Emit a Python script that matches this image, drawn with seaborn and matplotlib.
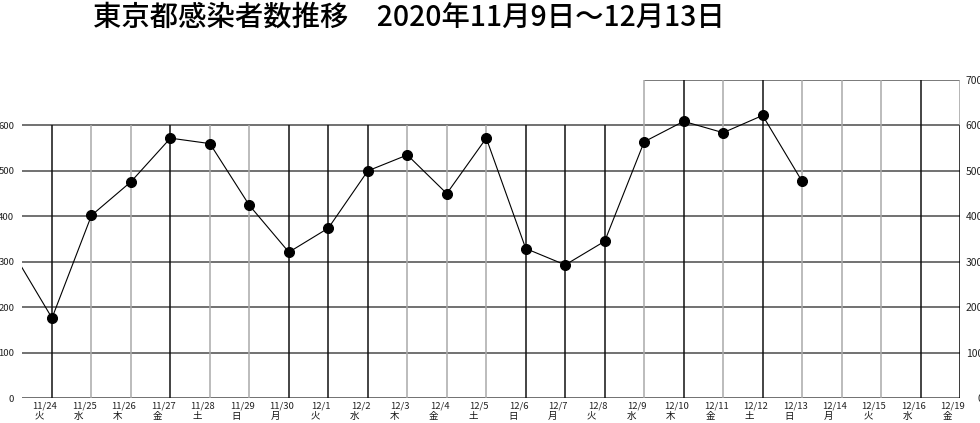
import numpy as np
import pandas as pd
import matplotlib
matplotlib.use("Agg")
import matplotlib.pyplot as plt
import matplotlib.transforms as mtransforms
import seaborn as sns

# ======== data ========
case_dates = ["2020/11/23", "2020/11/24", "2020/11/25", "2020/11/26", "2020/11/27",
              "2020/11/28", "2020/11/29", "2020/11/30", "2020/12/1", "2020/12/2",
              "2020/12/3", "2020/12/4", "2020/12/5", "2020/12/6", "2020/12/7",
              "2020/12/8", "2020/12/9", "2020/12/10", "2020/12/11", "2020/12/12",
              "2020/12/13"]
cases = [322, 176, 402, 476, 572, 560, 424, 321, 374, 500, 535, 450, 572,
         329, 293, 345, 564, 609, 584, 622, 477]

tick_dates = ["11/24", "11/25", "11/26", "11/27", "11/28", "11/29", "11/30",
              "12/1", "12/2", "12/3", "12/4", "12/5", "12/6", "12/7", "12/8",
              "12/9", "12/10", "12/11", "12/12", "12/13", "12/14", "12/15",
              "12/16", "12/19"]
tick_weekdays = ["火", "水", "木", "金", "土", "日", "月", "火", "水", "木", "金",
                 "土", "日", "月", "火", "水", "木", "金", "土", "日", "月", "火",
                 "水", "金"]
left_ticks = [0, 100, 200, 300, 400, 500, 600]
right_ticks = [0, 100, 200, 300, 400, 500, 600, 700]

title = "東京都感染者数推移　2020年11月9日～12月13日"

# ======== styling ========
sns.set_style("white")
plt.rcParams['font.family'] = ['Noto Sans CJK JP', 'DejaVu Sans']

dark_days = {"11/24", "11/27", "11/30", "12/1", "12/2", "12/6", "12/7",
             "12/8", "12/10", "12/12", "12/16"}
tall_from = "12/9"   # vertical grid lines reach 700 from this day on

df = pd.DataFrame({"date": pd.to_datetime(case_dates), "cases": cases})
df["pos"] = (df["date"] - pd.Timestamp("2020-11-24")).dt.days

fig = plt.figure(figsize=(9.8, 4.23), dpi=100)
ax = fig.add_axes([22 / 980, 25 / 423, 938 / 980, 318 / 423])
x_left, x_right = -0.76, len(tick_dates) - 1
ax.set_xlim(x_left, x_right)
ax.set_ylim(0, 700)
for s in ax.spines.values():
    s.set_visible(False)

# horizontal grid
ax.hlines(left_ticks, x_left, x_right, color="#4a4a4a", lw=1.1, zorder=1)
tall_idx = tick_dates.index(tall_from)
ax.hlines(700, tall_idx, x_right, color="#555555", lw=1.1, zorder=1)

# vertical grid
for i, d in enumerate(tick_dates[:-1]):
    col = "#111111" if d in dark_days else "#a9a9a9"
    top = 700 if i >= tall_idx else 600
    ax.vlines(i, 0, top, color=col, lw=1.1, zorder=1)
ax.vlines(x_right, 0, 600, color="black", lw=1.8, zorder=1)
ax.vlines(x_right, 600, 700, color="#a9a9a9", lw=1.2, zorder=1)

# the series
sns.lineplot(data=df, x="pos", y="cases", ax=ax, color="black", lw=0.8,
             marker="o", markersize=7.2, markeredgecolor="black", zorder=3)
ax.set_xlabel("")
ax.set_ylabel("")

# left labels
ax.set_xticks([])
ax.set_yticks(left_ticks)
ax.set_yticklabels([str(v) for v in left_ticks])
ax.tick_params(axis="y", length=0, pad=5.5, labelsize=6.8, labelcolor="#222222")

# right labels (cut by the picture edge, as in the original)
ax2 = ax.twinx()
ax2.set_ylim(0, 700)
for s in ax2.spines.values():
    s.set_visible(False)
ax2.set_yticks(right_ticks)
ax2.set_yticklabels([str(v) for v in right_ticks])
ax2.tick_params(axis="y", length=0, pad=16.5, labelsize=7.5, labelcolor="#222222")
for lbl in ax2.get_yticklabels():
    lbl.set_horizontalalignment("right")

# date / weekday labels
base = mtransforms.blended_transform_factory(ax.transData, ax.transAxes)
off_date = mtransforms.ScaledTranslation(-7 / 100, -8 / 100, fig.dpi_scale_trans)
off_wday = mtransforms.ScaledTranslation(-13 / 100, -18 / 100, fig.dpi_scale_trans)
for i, (d, w) in enumerate(zip(tick_dates, tick_weekdays)):
    ax.text(i, 0, d, transform=base + off_date, ha="center", va="center",
            fontsize=6.8, color="#222222")
    ax.text(i, 0, w, transform=base + off_wday, ha="center", va="center",
            fontsize=6.8, color="#111111")

fig.text(93 / 980, 1 - 17 / 423, title, ha="left", va="center", fontsize=20.4,
         fontweight="medium", color="black")

fig.savefig("out.png", dpi=100)
